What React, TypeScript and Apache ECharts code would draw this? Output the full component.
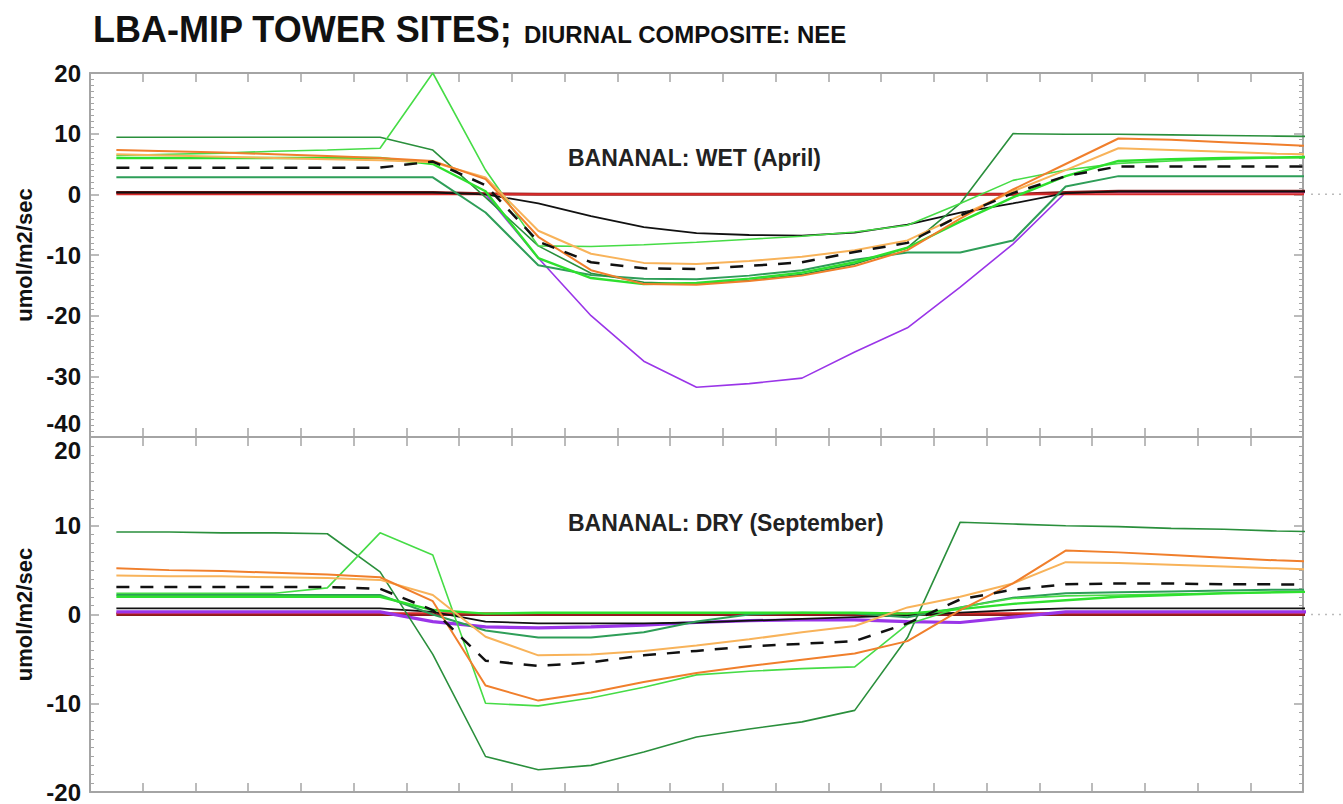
import React, { useEffect, useRef } from "react";
import * as echarts from "echarts";

// Half-hour positions of the diurnal composite (hour axis 0..23, last point clipped at the edge)
const hours = [0.5, 1.5, 2.5, 3.5, 4.5, 5.5, 6.5, 7.5, 8.5, 9.5, 10.5, 11.5, 12.5, 13.5, 14.5, 15.5, 16.5, 17.5, 18.5, 19.5, 20.5, 21.5, 22.5, 23.5];

const yTicksWet = { min: -40, max: 20, interval: 10 };
const yTicksDry = { min: -20, max: 20, interval: 10 };

// ---------- WET (April) ----------
const wetRed = [0, 0, 0, 0, 0, 0, 0, 0, 0, 0, 0, 0, 0, 0, 0, 0, 0, 0, 0, 0, 0, 0, 0, 0];
const wetMaroon = [0.3, 0.3, 0.3, 0.3, 0.3, 0.3, 0.3, 0.1, 0, 0, 0, 0, 0, 0, 0, 0, 0, 0, 0.3, 0.5, 0.5, 0.5, 0.5, 0.5];
const wetPurple = [0.3, 0.3, 0.3, 0.3, 0.3, 0.3, 0.3, 0, -10.5, -20, -27.5, -31.8, -31.2, -30.3, -26, -22, -15.3, -8.2, 0.3, 0.3, 0.3, 0.3, 0.3, 0.3];
const wetBlack = [0.3, 0.3, 0.3, 0.3, 0.3, 0.3, 0.3, 0, -1.5, -3.6, -5.4, -6.4, -6.7, -6.8, -6.3, -5, -3, -1.5, 0.2, 0.5, 0.5, 0.5, 0.5, 0.5];
const wetTeal = [2.8, 2.8, 2.8, 2.8, 2.8, 2.8, 2.8, -3, -11.7, -13.3, -13.9, -14, -13.4, -12.5, -10.8, -9.6, -9.6, -7.6, 1.3, 3, 3, 3, 3, 3];
const wetDarkGreen = [9.4, 9.4, 9.4, 9.4, 9.4, 9.4, 7.3, -0.5, -8.5, -13, -14.5, -14.8, -14.2, -13.2, -11.5, -8.8, -1.5, 10, 9.9, 9.9, 9.8, 9.7, 9.6, 9.5];
const wetLightGreen = [6.4, 6.6, 6.8, 7.1, 7.3, 7.6, 20, 4, -8.5, -8.6, -8.3, -7.9, -7.4, -6.9, -6.2, -5.1, -1.5, 2.3, 4, 5.1, 5.5, 5.8, 6, 6.1];
const wetBrightGreen = [6, 6, 6, 6, 6, 6, 5, 0.5, -10.5, -13.8, -14.8, -14.6, -13.9, -12.9, -11.2, -8.8, -4.5, -0.5, 3, 5.5, 5.8, 6, 6.1, 6.2];
const wetOrangeLight = [6.6, 6.4, 6.2, 6.0, 5.8, 5.6, 5.3, 2.8, -6, -9.8, -11.3, -11.5, -11, -10.3, -9.2, -7.6, -3.5, 0.5, 4, 7.6, 7.3, 7, 6.7, 6.5];
const wetOrangeDark = [7.3, 7.1, 6.9, 6.6, 6.3, 6, 5.5, 2.5, -7, -12.5, -14.8, -14.9, -14.3, -13.4, -11.8, -9.2, -4, 0.8, 5, 9.2, 9, 8.6, 8.2, 7.8];
const wetMean = [4.4, 4.4, 4.4, 4.4, 4.4, 4.4, 5.4, 1.5, -7.8, -11.2, -12.2, -12.3, -11.8, -11.2, -9.5, -8, -3.5, 0.2, 3, 4.6, 4.6, 4.6, 4.6, 4.6];

// ---------- DRY (September) ----------
const dryRed = [0.15, 0.15, 0.15, 0.15, 0.15, 0.15, 0.15, 0.15, 0.15, 0.15, 0.15, 0.15, 0.15, 0.15, 0.15, 0.15, 0.15, 0.15, 0.15, 0.15, 0.15, 0.15, 0.15, 0.15];
const dryMaroon = [0, 0, 0, 0, 0, 0, 0, 0, 0, 0, 0, 0, 0, 0, 0, 0, 0, 0, 0, 0, 0, 0, 0, 0];
const dryPurple = [0.3, 0.3, 0.3, 0.3, 0.3, 0.3, -0.8, -1.4, -1.5, -1.4, -1.2, -0.9, -0.7, -0.6, -0.6, -0.8, -0.9, -0.3, 0.3, 0.3, 0.3, 0.3, 0.3, 0.3];
const dryBlack = [0.7, 0.7, 0.7, 0.7, 0.7, 0.7, 0.3, -0.8, -1, -1, -1, -0.9, -0.7, -0.5, -0.3, -0.1, 0.2, 0.5, 0.7, 0.7, 0.7, 0.7, 0.7, 0.7];
const dryTeal = [2.2, 2.2, 2.2, 2.2, 2.2, 2.2, 0, -1.8, -2.6, -2.6, -2, -0.8, 0, 0.2, 0.1, -0.3, 0.8, 1.9, 2.4, 2.5, 2.6, 2.7, 2.8, 2.8];
const dryDarkGreen = [9.3, 9.3, 9.2, 9.2, 9.1, 4.8, -4.5, -16, -17.5, -17, -15.5, -13.8, -12.9, -12.1, -10.8, -2.6, 10.4, 10.2, 10, 9.9, 9.7, 9.6, 9.4, 9.3];
const dryLightGreen = [2.4, 2.4, 2.4, 2.4, 3, 9.2, 6.7, -10, -10.3, -9.4, -8.2, -6.8, -6.4, -6.1, -5.9, -1.1, 0.8, 1.8, 2.1, 2.2, 2.3, 2.4, 2.5, 2.6];
const dryBrightGreen = [2, 2, 2, 2, 2, 2, 0.5, 0.1, 0.2, 0.2, 0.2, 0.2, 0.2, 0.2, 0.2, 0.1, 0.6, 1.2, 1.6, 2, 2.2, 2.4, 2.5, 2.6];
const dryOrangeLight = [4.4, 4.3, 4.3, 4.2, 4.1, 3.9, 2.2, -2.5, -4.6, -4.5, -4.1, -3.5, -2.8, -2, -1.3, 0.8, 2, 3.5, 5.9, 5.8, 5.6, 5.4, 5.2, 5];
const dryOrangeDark = [5.2, 5.0, 4.9, 4.7, 4.5, 4.2, 1.5, -8, -9.7, -8.8, -7.6, -6.6, -5.8, -5.1, -4.4, -3, 0.5, 3.5, 7.2, 7, 6.7, 6.4, 6.1, 5.9];
const dryMean = [3.1, 3.1, 3.1, 3.1, 3.1, 2.9, 0.5, -5.2, -5.8, -5.4, -4.6, -4.1, -3.6, -3.3, -3, -1, 1.7, 2.8, 3.4, 3.5, 3.5, 3.4, 3.4, 3.3];

const FONT = "'Liberation Sans', Arial, Helvetica, sans-serif";
const AXIS_GRAY = "#a4a4a4";

const COLORS = {
  purple: "#9a35e8",
  maroon: "#8b1c1c",
  red: "#d82a2a",
  black: "#111111",
  teal: "#2e9e58",
  darkGreen: "#2a8f3c",
  lightGreen: "#46dc46",
  brightGreen: "#2ee02e",
  orangeLight: "#f8b35a",
  orangeDark: "#f07f2c",
};

function line(name: string, values: number[], color: string, width: number, grid: number, dashed = false) {
  return {
    name,
    type: "line",
    xAxisIndex: grid * 2,
    yAxisIndex: grid * 2,
    data: values.map((v, i) => [hours[i], v]),
    showSymbol: false,
    symbol: "none",
    clip: true,
    silent: true,
    lineStyle: { color, width, type: dashed ? [13, 11] : "solid" },
  };
}

function panelSeries(grid: number, d: any) {
  const purple = line("purple", d.purple, COLORS.purple, grid === 1 ? 3.2 : 1.6, grid);
  const maroon = line("maroon", d.maroon, COLORS.maroon, 3, grid);
  const red = line("red", d.red, COLORS.red, 2, grid);
  const base = grid === 0 ? [purple, maroon, red] : [maroon, red, purple];
  return [
    ...base,
    line("black", d.black, COLORS.black, 1.8, grid),
    line("teal", d.teal, COLORS.teal, 2, grid),
    line("darkGreen", d.darkGreen, COLORS.darkGreen, 1.6, grid),
    line("lightGreen", d.lightGreen, COLORS.lightGreen, 1.6, grid),
    line("brightGreen", d.brightGreen, COLORS.brightGreen, 2.4, grid),
    line("orangeLight", d.orangeLight, COLORS.orangeLight, 2, grid),
    line("orangeDark", d.orangeDark, COLORS.orangeDark, 2, grid),
    line("mean", d.mean, COLORS.black, 2.5, grid, true),
  ];
}

function xAxes(grid: number) {
  const base = {
    gridIndex: grid,
    type: "value",
    min: 0,
    max: 23,
    interval: 1,
    axisLine: { show: true, onZero: false, lineStyle: { color: AXIS_GRAY, width: 2 } },
    axisTick: { show: true, inside: true, length: 9, lineStyle: { color: AXIS_GRAY, width: 1.5 } },
    axisLabel: { show: false },
    splitLine: { show: false },
  };
  return [
    { ...base, position: "bottom" },
    { ...base, position: "top" },
  ];
}

function yAxes(grid: number, ticks: { min: number; max: number; interval: number }) {
  const base = {
    gridIndex: grid,
    type: "value",
    min: ticks.min,
    max: ticks.max,
    interval: ticks.interval,
    axisLine: { show: true, onZero: false, lineStyle: { color: AXIS_GRAY, width: 2 } },
    axisTick: { show: true, inside: true, length: 9, lineStyle: { color: AXIS_GRAY, width: 1.5 } },
    minorTick: { show: true, splitNumber: 10, length: 4, lineStyle: { color: AXIS_GRAY, width: 1 } },
    splitLine: { show: false },
    minorSplitLine: { show: false },
  };
  // labels at the shared panel edge are nudged apart (upper panel's bottom label up, lower panel's top label down)
  const edgeValue = grid === 0 ? ticks.min : ticks.max;
  const edgeStyle = grid === 0 ? "up" : "down";
  return [
    {
      ...base,
      position: "left",
      name: "umol/m2/sec",
      nameLocation: "middle",
      nameGap: 52,
      nameTextStyle: { fontFamily: FONT, fontWeight: "bold", fontSize: 22, color: "#111" },
      axisLabel: {
        show: true,
        fontFamily: FONT,
        fontWeight: "bold",
        fontSize: 24,
        color: "#111",
        margin: 9,
        formatter: (v: number) => (v === edgeValue ? `{${edgeStyle}|${v}}` : `${v}`),
        rich: {
          up: { fontFamily: FONT, fontWeight: "bold", fontSize: 24, color: "#111", padding: [0, 0, 28, 0] },
          down: { fontFamily: FONT, fontWeight: "bold", fontSize: 24, color: "#111", padding: [26, 0, 0, 0] },
        },
      },
    },
    { ...base, position: "right", axisLabel: { show: false } },
  ];
}

export default function App() {
  const ref = useRef<HTMLDivElement>(null);

  useEffect(() => {
    document.body.style.margin = "0";
    if (!ref.current) return;
    const chart = echarts.init(ref.current, undefined, { renderer: "svg" });

    const wet = {
      purple: wetPurple, maroon: wetMaroon, red: wetRed, black: wetBlack, teal: wetTeal,
      darkGreen: wetDarkGreen, lightGreen: wetLightGreen, brightGreen: wetBrightGreen,
      orangeLight: wetOrangeLight, orangeDark: wetOrangeDark, mean: wetMean,
    };
    const dry = {
      purple: dryPurple, maroon: dryMaroon, red: dryRed, black: dryBlack, teal: dryTeal,
      darkGreen: dryDarkGreen, lightGreen: dryLightGreen, brightGreen: dryBrightGreen,
      orangeLight: dryOrangeLight, orangeDark: dryOrangeDark, mean: dryMean,
    };

    chart.setOption({
      animation: false,
      backgroundColor: "#ffffff",
      title: [
        {
          text: "LBA-MIP TOWER SITES;",
          left: 88,
          top: 6,
          textStyle: { fontFamily: FONT, fontWeight: "bold", fontSize: 36, color: "#111" },
        },
        {
          text: "DIURNAL COMPOSITE: NEE",
          left: 519,
          top: 17,
          textStyle: { fontFamily: FONT, fontWeight: "bold", fontSize: 24, color: "#111" },
        },
        {
          text: "BANANAL: WET (April)",
          left: 563,
          top: 141,
          textStyle: { fontFamily: FONT, fontWeight: "bold", fontSize: 23, color: "#222" },
        },
        {
          text: "BANANAL: DRY (September)",
          left: 563,
          top: 506,
          textStyle: { fontFamily: FONT, fontWeight: "bold", fontSize: 23, color: "#222" },
        },
      ],
      grid: [
        { left: 90, right: 40, top: 73, height: 364 },
        { left: 90, right: 40, top: 437, height: 360 },
      ],
      xAxis: [...xAxes(0), ...xAxes(1)],
      yAxis: [...yAxes(0, yTicksWet), ...yAxes(1, yTicksDry)],
      series: [...panelSeries(0, wet), ...panelSeries(1, dry)],
    });

    // dotted zero-line stubs to the right of each panel
    const w = chart.getWidth();
    const g: any[] = [];
    [0, 1].forEach((gi) => {
      const p = chart.convertToPixel({ gridIndex: gi } as any, [23, 0]) as number[];
      if (p) {
        g.push({
          type: "line",
          shape: { x1: p[0] + 8, y1: p[1], x2: w, y2: p[1] },
          style: { stroke: "#bbbbbb", lineWidth: 1.5, lineDash: [2, 5] },
          silent: true,
        });
      }
    });
    chart.setOption({ graphic: g });

    return () => chart.dispose();
  }, []);

  return (
    <div
      ref={ref}
      style={{ position: "fixed", left: 0, top: 0, width: 1343, height: 804, background: "#fff" }}
    />
  );
}
